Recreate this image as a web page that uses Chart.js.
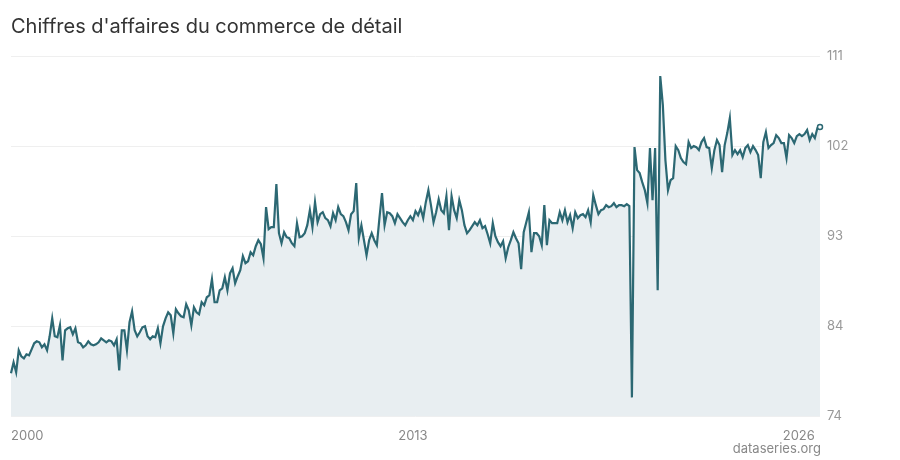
<!DOCTYPE html>
<html><head><meta charset="utf-8">
<script src="https://cdn.jsdelivr.net/npm/chart.js@4"></script>
<style>
html,body{margin:0;padding:0;background:#fff;}
#wrap{position:relative;width:900px;height:460px;font-family:Inter,"Noto Sans",sans-serif;}
#title{position:absolute;left:11px;top:14px;font-size:20px;color:#333;}
#src{position:absolute;right:79px;top:440px;font-size:13px;color:#888;}
#c{position:absolute;left:0;top:0;}
</style></head><body>
<div id="wrap">
<canvas id="c" width="900" height="460"></canvas>
<div id="title">Chiffres d'affaires du commerce de détail</div>
<div id="src">dataseries.org</div>
</div>
<script>
const startYear = 2000;
const values = [
79.3,80.4,79.4,81.6,81.0,80.8,81.2,81.1,81.7,82.3,82.5,82.4,
81.9,82.2,81.6,83.0,84.8,83.0,82.9,84.1,80.6,83.6,83.8,83.9,
83.2,83.8,82.4,82.3,81.9,82.1,82.5,82.2,82.1,82.2,82.4,82.8,
82.6,82.4,82.6,82.5,82.1,82.7,79.6,83.6,83.6,81.6,84.4,85.5,
83.6,83.0,83.4,83.9,84.0,83.0,82.7,83.0,82.9,83.8,82.3,84.0,
84.8,85.4,85.1,83.3,85.7,85.3,85.0,84.9,86.2,85.6,84.1,85.9,
85.4,85.2,86.4,86.1,86.9,87.1,88.7,86.4,86.4,87.6,87.8,88.9,
87.6,89.3,89.8,88.3,89.0,89.6,91.0,90.3,90.5,91.4,91.1,92.0,
92.6,92.2,90.8,95.9,93.7,93.9,93.9,98.2,93.3,92.3,93.4,92.9,
92.8,92.3,92.0,94.3,92.9,93.0,93.3,94.1,95.6,93.9,96.4,94.4,
95.2,95.4,94.8,94.6,94.0,95.3,94.6,95.9,95.2,95.0,94.4,93.6,
95.2,95.5,98.3,92.8,94.1,92.6,91.1,92.6,93.3,92.6,92.1,94.8,
97.3,94.1,95.4,95.3,95.0,94.3,95.2,94.8,94.4,94.1,94.6,95.0,
94.6,95.5,95.1,95.8,94.8,96.4,97.6,96.1,94.4,95.4,96.7,95.6,
95.3,97.0,93.6,97.0,95.6,94.8,96.6,95.6,94.1,93.3,93.6,94.0,
94.4,94.1,94.6,93.8,94.0,93.2,92.3,94.3,93.0,92.4,92.0,92.5,
90.8,91.9,92.6,93.4,92.8,92.3,89.7,93.4,94.4,95.4,91.4,93.3,
93.3,93.0,92.1,96.1,92.1,94.6,94.3,94.3,94.3,95.4,94.6,95.6,
94.4,95.1,93.8,95.4,94.8,95.1,95.2,94.9,95.6,94.4,97.1,96.1,
95.2,95.6,95.7,96.1,95.9,96.0,96.3,95.9,96.1,96.1,96.0,96.2,
96.0,76.9,101.9,99.6,99.3,98.4,97.6,96.3,101.8,96.6,101.8,87.6,
109.0,106.1,100.6,97.6,98.6,98.8,102.0,101.6,100.8,100.4,100.2,102.4,
101.8,102.0,101.9,101.6,102.4,102.8,101.9,101.8,99.8,101.6,102.6,102.1,
99.4,102.1,103.3,104.8,101.1,101.6,101.2,101.6,100.9,101.8,102.1,101.4,
102.0,101.6,101.1,98.8,102.4,103.4,101.8,102.1,102.3,103.1,102.8,102.3,
102.3,100.8,103.1,102.8,102.3,103.0,103.2,103.0,103.2,103.6,102.6,103.2,
102.8,103.8,103.9
];
const xTickYears = [2000, 2013, 2026];
const yTickValues = [75, 84, 93, 102, 111];
const yTickLabels = ["74", "84", "93", "102", "111"];

const labels = values.map((v, i) => (startYear + Math.floor(i / 12)) + "-" + String(i % 12 + 1).padStart(2, "0"));

new Chart(document.getElementById("c"), {
  type: "line",
  data: { labels, datasets: [{
    data: values,
    borderColor: "#2c6873",
    borderWidth: 2.2,
    backgroundColor: "#e8eef1",
    fill: "start",
    tension: 0,
    pointRadius: values.map((v, i) => i === values.length - 1 ? 2.5 : 0),
    pointBackgroundColor: "#fff",
    pointBorderColor: "#2c6873",
    pointBorderWidth: 1.5
  }]},
  options: {
    responsive: false, animation: false,
    layout: { padding: { left: 11, right: 0, top: 56, bottom: 12 } },
    plugins: { legend: { display: false }, tooltip: { enabled: false } },
    scales: {
      x: {
        offset: false,
        grid: { display: false },
        border: { display: false },
        ticks: {
          autoSkip: false, maxRotation: 0, align: "inner",
          color: "#888", font: { family: "Inter", size: 13 }, padding: 4,
          callback: function (v, i) {
            const l = labels[i];
            const y = +l.slice(0, 4);
            return (l.endsWith("-01") && xTickYears.includes(y)) ? String(y) : null;
          }
        }
      },
      y: {
        position: "right", min: 75, max: 111,
        border: { display: false },
        grid: { color: "#efefef", drawTicks: false },
        afterFit: s => { s.width = 80; },
        afterBuildTicks: s => { s.ticks = yTickValues.map(v => ({ value: v })); },
        ticks: {
          color: "#999", font: { family: "Inter", size: 13 }, padding: 7,
          callback: (v) => yTickLabels[yTickValues.indexOf(v)]
        }
      }
    }
  }
});
</script>
</body></html>
